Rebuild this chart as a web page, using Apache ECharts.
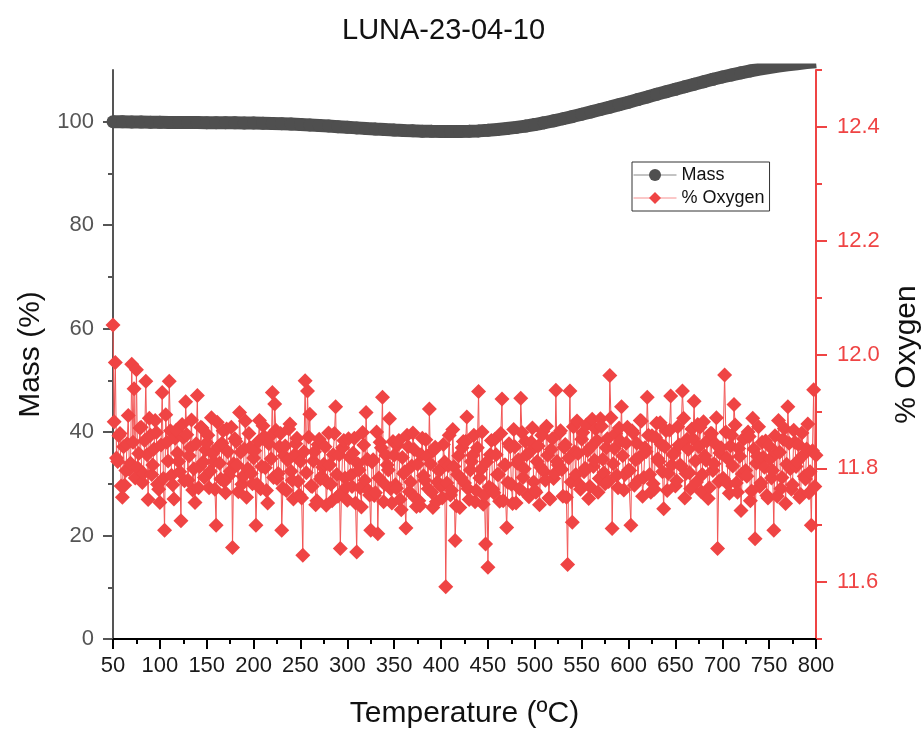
<!DOCTYPE html>
<html>
<head>
<meta charset="utf-8">
<title>LUNA-23-04-10</title>
<script src="https://cdn.jsdelivr.net/npm/echarts@6/dist/echarts.min.js"></script>
<style>
  html, body { margin: 0; padding: 0; background: #fff; }
  #chart { width: 922px; height: 730px; }
</style>
</head>
<body>
<div id="chart"></div>
<script>
// Thermogravimetric run: sample mass and oxygen concentration versus temperature.

const chartTitle = 'LUNA-23-04-10';

// Mass (%) sampled every 10 ºC from 50 ºC to 800 ºC
const massStartTemp = 50;
const massStepTemp = 10;
const massValues = [
  100.00, 99.98, 99.95, 99.93, 99.90, 99.88, 99.86, 99.85, 99.84, 99.83,
  99.82, 99.81, 99.80, 99.79, 99.77, 99.75, 99.72, 99.68, 99.62, 99.55,
  99.47, 99.38, 99.28, 99.17, 99.05, 98.93, 98.81, 98.69, 98.58, 98.48,
  98.39, 98.31, 98.24, 98.18, 98.14, 98.12, 98.11, 98.12, 98.16, 98.23,
  98.35, 98.50, 98.68, 98.90, 99.16, 99.46, 99.80, 100.18, 100.58, 101.00,
  101.45, 101.90, 102.36, 102.82, 103.30, 103.78, 104.28, 104.78, 105.30, 105.78,
  106.27, 106.76, 107.25, 107.72, 108.20, 108.65, 109.05, 109.45, 109.82, 110.16,
  110.48, 110.76, 111.00, 111.22, 111.42, 111.60
];

// % Oxygen sampled every 1.25 ºC from 50 ºC to 800 ºC
const oxygenStartTemp = 50;
const oxygenStepTemp = 1.25;
const oxygenValues = [
  12.052, 11.882, 11.986, 11.818, 11.812, 11.857, 11.861, 11.769, 11.749, 11.838, 11.770, 11.796, 11.843, 11.893, 11.798, 11.809, 11.983, 11.846, 11.940, 11.783,
  11.973, 11.801, 11.826, 11.871, 11.872, 11.775, 11.791, 11.849, 11.953, 11.824, 11.745, 11.888, 11.858, 11.789, 11.806, 11.834, 11.884, 11.863, 11.772, 11.763,
  11.740, 11.841, 11.933, 11.782, 11.691, 11.894, 11.846, 11.813, 11.953, 11.866, 11.788, 11.771, 11.746, 11.853, 11.867, 11.827, 11.812, 11.794, 11.708, 11.877,
  11.854, 11.778, 11.917, 11.859, 11.779, 11.822, 11.836, 11.885, 11.762, 11.799, 11.740, 11.843, 11.928, 11.766, 11.803, 11.872, 11.871, 11.811, 11.784, 11.832,
  11.845, 11.858, 11.766, 11.795, 11.889, 11.826, 11.812, 11.763, 11.700, 11.881, 11.838, 11.809, 11.781, 11.844, 11.866, 11.777, 11.757, 11.869, 11.829, 11.787,
  11.795, 11.872, 11.661, 11.808, 11.852, 11.847, 11.806, 11.759, 11.898, 11.828, 11.772, 11.786, 11.834, 11.883, 11.749, 11.799, 11.861, 11.836, 11.791, 11.773,
  11.818, 11.831, 11.700, 11.772, 11.847, 11.884, 11.764, 11.803, 11.875, 11.856, 11.801, 11.761, 11.739, 11.843, 11.856, 11.817, 11.933, 11.784, 11.913, 11.867,
  11.782, 11.791, 11.838, 11.861, 11.691, 11.765, 11.822, 11.839, 11.761, 11.814, 11.869, 11.878, 11.795, 11.779, 11.746, 11.824, 11.843, 11.853, 11.777, 11.753,
  11.812, 11.748, 11.647, 11.829, 11.954, 11.792, 11.936, 11.855, 11.895, 11.769, 11.768, 11.813, 11.829, 11.736, 11.743, 11.842, 11.851, 11.781, 11.786, 11.802,
  11.807, 11.838, 11.735, 11.775, 11.862, 11.806, 11.772, 11.743, 11.824, 11.861, 11.908, 11.789, 11.751, 11.824, 11.659, 11.757, 11.836, 11.849, 11.783, 11.767,
  11.744, 11.852, 11.819, 11.788, 11.768, 11.827, 11.853, 11.739, 11.653, 11.808, 11.797, 11.766, 11.732, 11.863, 11.841, 11.779, 11.898, 11.816, 11.761, 11.753,
  11.691, 11.811, 11.815, 11.752, 11.757, 11.864, 11.685, 11.783, 11.846, 11.836, 11.925, 11.741, 11.772, 11.823, 11.806, 11.797, 11.887, 11.764, 11.739, 11.847,
  11.823, 11.771, 11.765, 11.841, 11.849, 11.745, 11.727, 11.819, 11.791, 11.794, 11.695, 11.858, 11.838, 11.759, 11.776, 11.804, 11.862, 11.833, 11.748, 11.733,
  11.807, 11.743, 11.734, 11.824, 11.853, 11.787, 11.779, 11.850, 11.821, 11.764, 11.904, 11.808, 11.758, 11.731, 11.832, 11.837, 11.741, 11.776, 11.796, 11.797,
  11.768, 11.748, 11.842, 11.811, 11.592, 11.774, 11.805, 11.858, 11.753, 11.761, 11.868, 11.803, 11.673, 11.734, 11.789, 11.822, 11.731, 11.783, 11.836, 11.847,
  11.774, 11.847, 11.890, 11.764, 11.745, 11.797, 11.812, 11.823, 11.858, 11.741, 11.761, 11.836, 11.935, 11.783, 11.798, 11.864, 11.737, 11.752, 11.667, 11.811,
  11.626, 11.767, 11.824, 11.849, 11.763, 11.757, 11.851, 11.824, 11.789, 11.789, 11.742, 11.861, 11.922, 11.743, 11.806, 11.806, 11.696, 11.775, 11.843, 11.838,
  11.772, 11.738, 11.868, 11.838, 11.739, 11.809, 11.815, 11.764, 11.923, 11.863, 11.784, 11.799, 11.847, 11.824, 11.753, 11.750, 11.829, 11.846, 11.871, 11.776,
  11.761, 11.758, 11.812, 11.839, 11.736, 11.802, 11.858, 11.865, 11.794, 11.779, 11.874, 11.823, 11.748, 11.746, 11.833, 11.852, 11.782, 11.791, 11.937, 11.812,
  11.806, 11.862, 11.866, 11.798, 11.751, 11.837, 11.842, 11.749, 11.631, 11.818, 11.936, 11.776, 11.705, 11.873, 11.829, 11.789, 11.883, 11.826, 11.772, 11.763,
  11.851, 11.863, 11.794, 11.800, 11.876, 11.831, 11.747, 11.768, 11.838, 11.886, 11.803, 11.814, 11.869, 11.849, 11.758, 11.782, 11.887, 11.874, 11.816, 11.792,
  11.773, 11.836, 11.852, 11.777, 11.963, 11.889, 11.694, 11.808, 11.835, 11.861, 11.788, 11.766, 11.871, 11.848, 11.908, 11.822, 11.762, 11.789, 11.844, 11.872,
  11.797, 11.796, 11.700, 11.866, 11.862, 11.770, 11.815, 11.844, 11.778, 11.819, 11.884, 11.883, 11.751, 11.784, 11.836, 11.829, 11.925, 11.858, 11.789, 11.758,
  11.857, 11.773, 11.763, 11.854, 11.879, 11.817, 11.812, 11.880, 11.842, 11.794, 11.729, 11.838, 11.866, 11.761, 11.791, 11.867, 11.927, 11.806, 11.824, 11.827,
  11.769, 11.778, 11.873, 11.841, 11.806, 11.804, 11.936, 11.888, 11.748, 11.791, 11.851, 11.833, 11.792, 11.764, 11.869, 11.852, 11.918, 11.813, 11.776, 11.877,
  11.838, 11.872, 11.759, 11.789, 11.882, 11.822, 11.814, 11.848, 11.747, 11.766, 11.861, 11.861, 11.796, 11.808, 11.843, 11.889, 11.659, 11.777, 11.827, 11.836,
  11.781, 11.782, 11.964, 11.864, 11.818, 11.772, 11.756, 11.839, 11.858, 11.804, 11.912, 11.876, 11.774, 11.758, 11.835, 11.821, 11.726, 11.790, 11.852, 11.853,
  11.796, 11.786, 11.864, 11.856, 11.743, 11.760, 11.888, 11.834, 11.676, 11.809, 11.821, 11.873, 11.768, 11.774, 11.846, 11.819, 11.802, 11.848, 11.752, 11.748,
  11.839, 11.817, 11.783, 11.796, 11.691, 11.857, 11.827, 11.751, 11.884, 11.828, 11.764, 11.784, 11.851, 11.870, 11.738, 11.807, 11.908, 11.844, 11.799, 11.763,
  11.771, 11.867, 11.846, 11.803, 11.812, 11.842, 11.749, 11.754, 11.862, 11.823, 11.786, 11.781, 11.834, 11.878, 11.757, 11.794, 11.700, 11.831, 11.938, 11.768,
  11.823
];

// Axis ticks
const tempTicks = { min: 50, max: 800, step: 50 };
const massLabelTicks = [0, 20, 40, 60, 80, 100];
const massMinorTicks = [10, 30, 50, 70, 90];
const oxygenLabelTicks = [11.6, 11.8, 12.0, 12.2, 12.4];
const oxygenMinorTicks = [11.5, 11.7, 11.9, 12.1, 12.3, 12.5];

const massSeriesData = massValues.map((v, i) => [massStartTemp + i * massStepTemp, v]);
const oxygenSeriesData = oxygenValues.map((v, i) => [oxygenStartTemp + i * oxygenStepTemp, v]);

const FONT = 'Arial, "Liberation Sans", sans-serif';
const RED = '#EF4444';
const GREY = '#555555';
const MASS_COLOR = '#4F4F4F';

const chart = echarts.init(document.getElementById('chart'), null, { renderer: 'canvas' });

const option = {
  animation: false,
  backgroundColor: '#ffffff',
  title: {
    text: chartTitle,
    left: 337,
    top: 11,
    textStyle: { fontFamily: FONT, fontSize: 29, fontWeight: 'normal', color: '#111' }
  },
  legend: {
    orient: 'vertical',
    left: 632,
    top: 162,
    padding: [4, 5, 4, 1],
    itemGap: 5,
    itemWidth: 43,
    itemHeight: 15,
    borderColor: '#333',
    borderWidth: 1,
    textStyle: { fontFamily: FONT, fontSize: 18, color: '#111', lineHeight: 18 },
    data: [
      { name: 'Mass', lineStyle: { width: 1, color: '#888' } },
      { name: '% Oxygen', lineStyle: { width: 1, color: '#F79090' } }
    ]
  },
  grid: { left: 113, right: 106, top: 70, bottom: 91, containLabel: false, outerBoundsMode: 'none' },
  xAxis: [
    {
      type: 'value',
      position: 'bottom',
      min: tempTicks.min,
      max: tempTicks.max,
      interval: tempTicks.step,
      name: 'Temperature (ºC)',
      nameLocation: 'middle',
      nameGap: 60,
      nameTextStyle: { fontFamily: FONT, fontSize: 30, color: '#111' },
      axisLine: { show: true, lineStyle: { color: '#000', width: 2 } },
      axisTick: { show: true, length: 10, lineStyle: { color: '#000', width: 2 } },
      minorTick: { show: true, splitNumber: 2, length: 5, lineStyle: { color: '#000', width: 2 } },
      axisLabel: { fontFamily: FONT, fontSize: 22, color: '#1a1a1a', margin: 16 },
      splitLine: { show: false }
    },
    {
      type: 'value',
      position: 'top',
      min: tempTicks.min,
      max: tempTicks.max,
      interval: tempTicks.step,
      axisLine: { show: true, lineStyle: { color: '#000', width: 2 } },
      axisTick: { show: true, inside: true, length: 10, lineStyle: { color: '#000', width: 2 } },
      minorTick: { show: true, splitNumber: 2, length: 5, lineStyle: { color: '#000', width: 2 } },
      axisLabel: { show: false },
      splitLine: { show: false }
    }
  ],
  yAxis: [
    {
      type: 'value',
      position: 'left',
      min: 0,
      max: 110,
      name: 'Mass (%)',
      nameLocation: 'middle',
      nameGap: 67,
      nameTextStyle: { fontFamily: FONT, fontSize: 30, color: '#111' },
      axisLine: { show: true, lineStyle: { color: GREY, width: 2 } },
      axisTick: { show: true, length: 10, customValues: massLabelTicks, lineStyle: { color: GREY, width: 2 } },
      axisLabel: { fontFamily: FONT, fontSize: 22, color: GREY, margin: 19, customValues: massLabelTicks },
      splitLine: { show: false }
    },
    {
      type: 'value',
      position: 'left',
      min: 0,
      max: 110,
      axisLine: { show: false },
      axisTick: { show: true, length: 5, customValues: massMinorTicks, lineStyle: { color: GREY, width: 2 } },
      axisLabel: { show: false },
      splitLine: { show: false }
    },
    {
      type: 'value',
      position: 'right',
      min: 11.5,
      max: 12.5,
      name: '% Oxygen',
      nameLocation: 'middle',
      nameGap: 76,
      nameTextStyle: { fontFamily: FONT, fontSize: 30, color: '#111' },
      axisLine: { show: true, lineStyle: { color: RED, width: 2 } },
      axisTick: { show: true, length: 11, customValues: oxygenLabelTicks, lineStyle: { color: RED, width: 2 } },
      axisLabel: {
        fontFamily: FONT, fontSize: 22, color: RED, margin: 21,
        customValues: oxygenLabelTicks,
        formatter: v => Number(v).toFixed(1)
      },
      splitLine: { show: false }
    },
    {
      type: 'value',
      position: 'right',
      min: 11.5,
      max: 12.5,
      axisLine: { show: false },
      axisTick: { show: true, length: 6, customValues: oxygenMinorTicks, lineStyle: { color: RED, width: 2 } },
      axisLabel: { show: false },
      splitLine: { show: false }
    }
  ],
  series: [
    {
      name: 'Mass',
      type: 'line',
      xAxisIndex: 0,
      yAxisIndex: 0,
      data: massSeriesData,
      clip: true,
      color: MASS_COLOR,
      symbol: 'circle',
      symbolSize: 13,
      showSymbol: true,
      lineStyle: { color: MASS_COLOR, width: 13 },
      itemStyle: { color: MASS_COLOR },
      emphasis: { disabled: true },
      z: 2
    },
    {
      name: '% Oxygen',
      type: 'line',
      xAxisIndex: 0,
      yAxisIndex: 2,
      data: oxygenSeriesData,
      clip: true,
      color: RED,
      symbol: 'diamond',
      symbolSize: 15,
      showSymbol: true,
      lineStyle: { color: '#F25555', width: 1 },
      itemStyle: { color: RED },
      emphasis: { disabled: true },
      z: 3
    }
  ]
};

chart.setOption(option);
</script>
</body>
</html>
